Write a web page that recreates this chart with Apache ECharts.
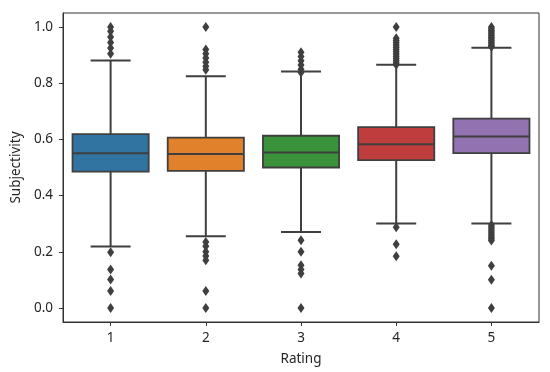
<!DOCTYPE html>
<html><head><meta charset="utf-8">
<script src="https://cdn.jsdelivr.net/npm/echarts@6/dist/echarts.min.js"></script>
<style>html,body{margin:0;padding:0;background:#fff}#c{width:550px;height:372px}</style>
</head><body><div id="c"></div>
<script>
var categories = ['1','2','3','4','5'];
var whiskerLow  = [0.219, 0.255, 0.270, 0.301, 0.301];
var q1Values    = [0.485, 0.488, 0.500, 0.526, 0.551];
var medians     = [0.551, 0.548, 0.553, 0.583, 0.610];
var q3Values    = [0.619, 0.606, 0.613, 0.644, 0.674];
var whiskerHigh = [0.881, 0.825, 0.842, 0.866, 0.926];
var outliers1 = [1.0, 0.985, 0.965, 0.945, 0.925, 0.905, 0.198, 0.137, 0.101, 0.06, 0.0];
var outliers2 = [1.0, 0.92, 0.905, 0.89, 0.875, 0.86, 0.848, 0.235, 0.22, 0.2, 0.185, 0.17, 0.06, 0.0];
var outliers3 = [0.91, 0.895, 0.88, 0.865, 0.85, 0.838, 0.241, 0.2, 0.152, 0.137, 0.123, 0.0];
var outliers4 = [1.0, 0.96, 0.952, 0.944, 0.936, 0.928, 0.92, 0.912, 0.904, 0.896, 0.888, 0.88, 0.872, 0.866, 0.287, 0.227, 0.184];
var outliers5 = [1.0, 0.994, 0.988, 0.982, 0.976, 0.97, 0.964, 0.958, 0.952, 0.946, 0.94, 0.934, 0.93,
                 0.295, 0.288, 0.281, 0.274, 0.267, 0.26, 0.253, 0.246, 0.24, 0.15, 0.10, 0.0];
var yTicks = [0, 0.2, 0.4, 0.6, 0.8, 1.0];

var outlierSets = [outliers1, outliers2, outliers3, outliers4, outliers5];
var palette = ['#3274a1', '#e1812c', '#3a923a', '#c03d3e', '#9372b2'];
var edge = '#3f3f3f';

var boxData = categories.map(function (c, i) {
  return [i, whiskerLow[i], q1Values[i], medians[i], q3Values[i], whiskerHigh[i]];
});
var outlierData = [];
outlierSets.forEach(function (arr, i) { arr.forEach(function (v) { outlierData.push([i, v]); }); });

var chart = echarts.init(document.getElementById('c'), null, {renderer: 'canvas'});
var txt = {color: '#262626', fontFamily: 'Noto Sans', fontSize: 13.5};
chart.setOption({
  animation: false,
  grid: {left: 63, right: 11, top: 13, bottom: 50, show: true, borderColor: '#333', borderWidth: 1, backgroundColor: 'transparent'},
  xAxis: {
    type: 'category', data: categories, boundaryGap: true,
    name: 'Rating', nameLocation: 'middle', nameGap: 30,
    nameTextStyle: txt,
    axisLine: {show: true, onZero: false, lineStyle: {color: '#333', width: 1}},
    axisTick: {show: true, alignWithLabel: true, length: 4, lineStyle: {color: '#333'}},
    axisLabel: Object.assign({margin: 9}, txt),
    splitLine: {show: false}
  },
  yAxis: {
    type: 'value', min: -0.05, max: 1.05,
    name: 'Subjectivity', nameLocation: 'middle', nameGap: 37,
    nameTextStyle: txt,
    axisLine: {show: true, onZero: false, lineStyle: {color: '#333', width: 1}},
    axisTick: {show: true, length: 4, lineStyle: {color: '#333'}, customValues: yTicks},
    axisLabel: Object.assign({margin: 10, customValues: yTicks, formatter: function (v) { return v.toFixed(1); }}, txt),
    splitLine: {show: false}
  },
  series: [
    {
      type: 'custom',
      data: boxData,
      encode: {x: 0, y: [1, 2, 3, 4, 5]},
      renderItem: function (params, api) {
        var x = api.value(0);
        var lo = api.coord([x, api.value(1)]);
        var q1 = api.coord([x, api.value(2)]);
        var md = api.coord([x, api.value(3)]);
        var q3 = api.coord([x, api.value(4)]);
        var hi = api.coord([x, api.value(5)]);
        var band = api.size([1, 0])[0];
        var hw = band * 0.4, cw = band * 0.21;
        var cx = md[0];
        var ls = {stroke: edge, lineWidth: 2};
        return {
          type: 'group',
          children: [
            {type: 'line', shape: {x1: cx, y1: q3[1], x2: cx, y2: hi[1]}, style: ls},
            {type: 'line', shape: {x1: cx, y1: q1[1], x2: cx, y2: lo[1]}, style: ls},
            {type: 'line', shape: {x1: cx - cw, y1: hi[1], x2: cx + cw, y2: hi[1]}, style: ls},
            {type: 'line', shape: {x1: cx - cw, y1: lo[1], x2: cx + cw, y2: lo[1]}, style: ls},
            {type: 'rect', shape: {x: cx - hw, y: q3[1], width: 2 * hw, height: q1[1] - q3[1]},
             style: {fill: palette[params.dataIndex], stroke: edge, lineWidth: 1.8}},
            {type: 'line', shape: {x1: cx - hw, y1: md[1], x2: cx + hw, y2: md[1]}, style: ls}
          ]
        };
      }
    },
    {
      type: 'scatter',
      data: outlierData,
      symbol: 'diamond',
      symbolSize: [7, 10],
      itemStyle: {color: edge, opacity: 1},
      z: 3
    }
  ]
});
</script></body></html>
